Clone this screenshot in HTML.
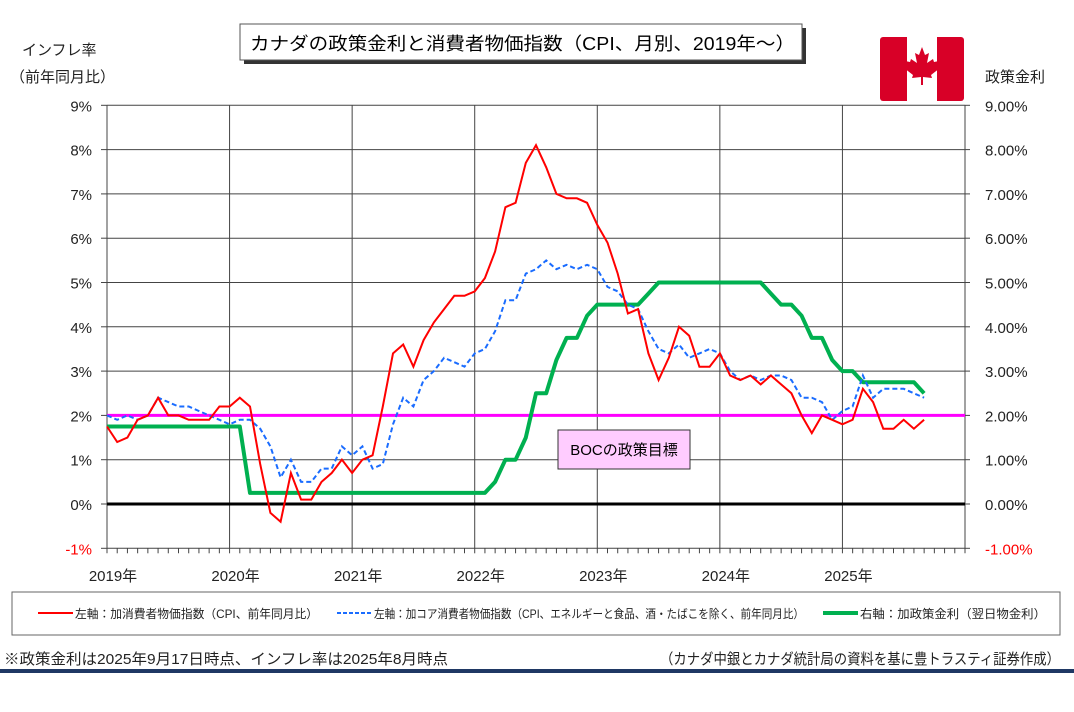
<!DOCTYPE html>
<html><head><meta charset="utf-8">
<style>
html,body{margin:0;padding:0;background:#fff;}
body{width:1074px;height:707px;overflow:hidden;font-family:"Liberation Sans","Noto Sans CJK JP",sans-serif;}
svg text{font-family:"Liberation Sans","Noto Sans CJK JP",sans-serif;}
</style></head><body>
<svg id="s" width="1074" height="707" viewBox="0 0 1074 707" xmlns="http://www.w3.org/2000/svg">
<rect width="1074" height="707" fill="#fff"/>
<rect x="244" y="28" width="562" height="36" fill="#333"/>
<rect x="240" y="24" width="562" height="36" fill="#fff" stroke="#555" stroke-width="1"/>
<text x="250" y="50" font-size="18" fill="#000" textLength="545" lengthAdjust="spacingAndGlyphs">カナダの政策金利と消費者物価指数（CPI、月別、2019年～）</text>
<text x="22" y="55" font-size="15" fill="#222">インフレ率</text>
<text x="10" y="82" font-size="15" fill="#222">（前年同月比）</text>
<text x="985" y="82" font-size="15" fill="#222">政策金利</text>
<rect x="880" y="37" width="84" height="64" rx="3" fill="#d80027"/>
<rect x="907" y="37" width="30" height="64" fill="#fff"/>
<path d="M922 47 L925 55 L929 53 L927 63 L933 59 L934 62 L939 61 L937 67 L940 68 L931 75 L932 78 L923 77 L923 85 L921 85 L921 77 L912 78 L913 75 L904 68 L907 67 L905 61 L910 62 L911 59 L917 63 L915 53 L919 55 Z" fill="#d80027"/>
<g id="plot"></g>
<rect x="558" y="430" width="132" height="39" fill="#ffccff" stroke="#333" stroke-width="1"/>
<text x="624" y="455" font-size="15" text-anchor="middle" fill="#000">BOCの政策目標</text>
<rect x="12" y="592" width="1048" height="43" fill="#fff" stroke="#666" stroke-width="1"/>
<line x1="38" y1="613" x2="73" y2="613" stroke="#ff0000" stroke-width="2"/>
<text x="75" y="618" font-size="12" fill="#222" textLength="243" lengthAdjust="spacingAndGlyphs">左軸：加消費者物価指数（CPI、前年同月比）</text>
<line x1="337" y1="613" x2="372" y2="613" stroke="#1a6cff" stroke-width="2" stroke-dasharray="4,2"/>
<text x="374" y="618" font-size="12" fill="#222" textLength="430" lengthAdjust="spacingAndGlyphs">左軸：加コア消費者物価指数（CPI、エネルギーと食品、酒・たばこを除く、前年同月比）</text>
<line x1="823" y1="613" x2="858" y2="613" stroke="#00b050" stroke-width="4"/>
<text x="860" y="618" font-size="12" fill="#222" textLength="186" lengthAdjust="spacingAndGlyphs">右軸：加政策金利（翌日物金利）</text>
<text x="4" y="664" font-size="15" fill="#222" textLength="444" lengthAdjust="spacingAndGlyphs">※政策金利は2025年9月17日時点、インフレ率は2025年8月時点</text>
<text x="660" y="664" font-size="15" fill="#222" textLength="400" lengthAdjust="spacingAndGlyphs">（カナダ中銀とカナダ統計局の資料を基に豊トラスティ証券作成）</text>
<rect x="0" y="669" width="1074" height="4" fill="#1f3864"/>
</svg>
<script>
var NS="http://www.w3.org/2000/svg",g=document.getElementById("plot");
function el(t,a,txt){var e=document.createElementNS(NS,t);for(var k in a)e.setAttribute(k,a[k]);if(txt!=null)e.textContent=txt;g.appendChild(e);return e;}
var X0=107,X1=965,DX=(X1-X0)/84;
function X(m){return X0+m*DX;}
function Y(v){return 504-44.3*v;}
for(var v=-1;v<=9;v++){
  el("line",{x1:X0,y1:Y(v),x2:X1,y2:Y(v),stroke:"#444","stroke-width":1});
  el("line",{x1:X0-6,y1:Y(v),x2:X0,y2:Y(v),stroke:"#444","stroke-width":1});
  el("line",{x1:X1,y1:Y(v),x2:X1+5,y2:Y(v),stroke:"#444","stroke-width":1});
  var c=v<0?"#ff0000":"#222";
  el("text",{x:92,y:Y(v)+6,"font-size":15,"text-anchor":"end",fill:c},v+"%");
  el("text",{x:985,y:Y(v)+6,"font-size":15,fill:c},v.toFixed(2)+"%");
}
for(var yr=0;yr<=7;yr++){
  var x=X(yr*12);
  el("line",{x1:x,y1:Y(9),x2:x,y2:Y(-1),stroke:"#444","stroke-width":1});
  if(yr<7)el("text",{x:x+6,y:581,"font-size":15,"text-anchor":"middle",fill:"#222"},(2019+yr)+"年");
}
for(var m=0;m<=84;m++){var x=X(m);el("line",{x1:x,y1:Y(-1),x2:x,y2:Y(-1)+5,stroke:"#444","stroke-width":1});}
el("line",{x1:X0,y1:Y(2),x2:X1,y2:Y(2),stroke:"#ff00ff","stroke-width":3});
el("line",{x1:X0,y1:Y(0),x2:X1,y2:Y(0),stroke:"#000","stroke-width":3});
function path(d,attrs){var s="";for(var i=0;i<d.length;i++)s+=(i?"L":"M")+X(i).toFixed(1)+" "+Y(d[i]).toFixed(1);attrs.d=s;attrs.fill="none";el("path",attrs);}
var rate=[1.75,1.75,1.75,1.75,1.75,1.75,1.75,1.75,1.75,1.75,1.75,1.75,
1.75,1.75,0.25,0.25,0.25,0.25,0.25,0.25,0.25,0.25,0.25,0.25,
0.25,0.25,0.25,0.25,0.25,0.25,0.25,0.25,0.25,0.25,0.25,0.25,
0.25,0.25,0.5,1.0,1.0,1.5,2.5,2.5,3.25,3.75,3.75,4.25,
4.5,4.5,4.5,4.5,4.5,4.75,5.0,5.0,5.0,5.0,5.0,5.0,
5.0,5.0,5.0,5.0,5.0,4.75,4.5,4.5,4.25,3.75,3.75,3.25,
3.0,3.0,2.75,2.75,2.75,2.75,2.75,2.75,2.5];
var core=[2.0,1.9,2.0,1.9,2.0,2.4,2.3,2.2,2.2,2.1,2.0,1.9,
1.8,1.9,1.9,1.7,1.3,0.6,1.0,0.5,0.5,0.8,0.8,1.3,
1.1,1.3,0.8,0.9,1.8,2.4,2.2,2.8,3.0,3.3,3.2,3.1,
3.4,3.5,3.9,4.6,4.6,5.2,5.3,5.5,5.3,5.4,5.3,5.4,
5.3,4.9,4.8,4.5,4.4,3.9,3.5,3.4,3.6,3.3,3.4,3.5,
3.4,3.0,2.8,2.9,2.8,2.9,2.9,2.8,2.4,2.4,2.3,1.9,
2.1,2.2,2.9,2.4,2.6,2.6,2.6,2.5,2.4];
var cpi=[1.75,1.4,1.5,1.9,2.0,2.4,2.0,2.0,1.9,1.9,1.9,2.2,
2.2,2.4,2.2,0.9,-0.2,-0.4,0.7,0.1,0.1,0.5,0.7,1.0,
0.7,1.0,1.1,2.2,3.4,3.6,3.1,3.7,4.1,4.4,4.7,4.7,
4.8,5.1,5.7,6.7,6.8,7.7,8.1,7.6,7.0,6.9,6.9,6.8,
6.3,5.9,5.2,4.3,4.4,3.4,2.8,3.3,4.0,3.8,3.1,3.1,
3.4,2.9,2.8,2.9,2.7,2.9,2.7,2.5,2.0,1.6,2.0,1.9,
1.8,1.9,2.6,2.3,1.7,1.7,1.9,1.7,1.9];
path(rate,{stroke:"#00b050","stroke-width":4,"stroke-linejoin":"round"});
path(core,{stroke:"#1a6cff","stroke-width":2,"stroke-dasharray":"5,3"});
path(cpi,{stroke:"#ff0000","stroke-width":2});
</script>
</body></html>
